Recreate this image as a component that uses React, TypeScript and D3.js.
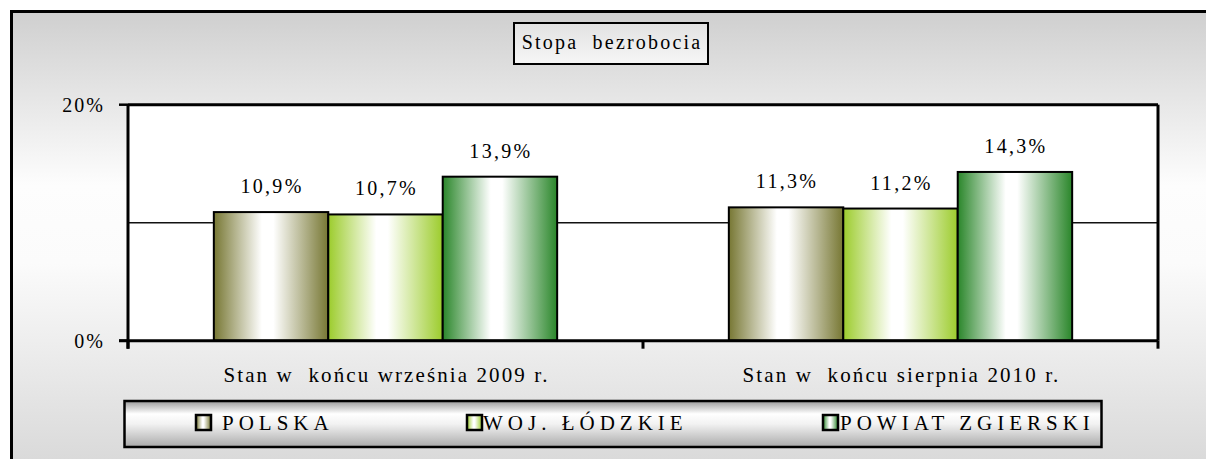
import React from "react";
import * as d3 from "d3";

const categories = ["Stan w  końcu września 2009 r.", "Stan w  końcu sierpnia 2010 r."];
const seriesNames = ["POLSKA", "WOJ. ŁÓDZKIE", "POWIAT ZGIERSKI"];
const seriesColors = ["#777733", "#9ccc2c", "#2a862a"];
const polska = [10.9, 11.3];
const wojLodzkie = [10.7, 11.2];
const powiatZgierski = [13.9, 14.3];
const yTicks = [0, 10, 20];
const yTickLabels = ["0%", "", "20%"];
const title = "Stopa  bezrobocia";

const seriesValues = [polska, wojLodzkie, powiatZgierski];

const W = 1206;
const H = 459;
const FONT = "Liberation Serif";

export default function App() {
  const plotL = 128, plotR = 1158, plotT = 104.7, plotB = 340.7;
  const x0 = d3.scaleBand<number>().domain(d3.range(categories.length)).range([plotL, plotR]).padding(0);
  const bw = x0.bandwidth();
  const groupW = (bw * 3) / 4.5;
  const x1 = d3.scaleBand<number>().domain(d3.range(seriesNames.length)).range([(bw - groupW) / 2, (bw + groupW) / 2]).padding(0);
  const y = d3.scaleLinear().domain([0, 20]).range([plotB, plotT]);
  const fmt = (v: number) => v.toFixed(1).replace(".", ",") + "%";

  const legendItems = [
    { sx: 196, tx: 222 },
    { sx: 467, tx: 483 },
    { sx: 823, tx: 840 },
  ];
  const txt = { fontFamily: FONT, whiteSpace: "pre" as const };

  return (
    <svg width={W} height={H} style={{ position: "absolute", left: 0, top: 0, display: "block" }}>
      <defs>
        <linearGradient id="bg" gradientUnits="userSpaceOnUse" x1="0" y1="11" x2="0" y2="470">
          <stop offset="0" stopColor="#cfcfcf" />
          <stop offset="0.38" stopColor="#fdfdfd" />
          <stop offset="0.55" stopColor="#fbfbfb" />
          <stop offset="1" stopColor="#d8d8d8" />
        </linearGradient>
        <linearGradient id="legbg" x1="0" y1="0" x2="0" y2="1">
          <stop offset="0" stopColor="#9a9a9a" />
          <stop offset="0.28" stopColor="#ffffff" />
          <stop offset="0.5" stopColor="#f2f2f2" />
          <stop offset="1" stopColor="#aaaaaa" />
        </linearGradient>
        <linearGradient id="titlebg" x1="0" y1="0" x2="0" y2="1">
          <stop offset="0" stopColor="#e2e2e2" />
          <stop offset="1" stopColor="#f6f6f6" />
        </linearGradient>
        {seriesColors.map((c, i) => (
          <linearGradient key={i} id={"bar" + i} x1="0" y1="0" x2="1" y2="0">
            <stop offset="0" stopColor={c} />
            <stop offset="0.42" stopColor="#ffffff" />
            <stop offset="0.52" stopColor="#ffffff" />
            <stop offset="1" stopColor={c} />
          </linearGradient>
        ))}
      </defs>

      {/* outer frame */}
      <rect x={11.5} y={11.5} width={1210} height={470} fill="url(#bg)" stroke="#000" strokeWidth={3} />

      {/* title */}
      <rect x={514} y={23} width={194} height={41} fill="url(#titlebg)" stroke="#000" strokeWidth={2} />
      <text x={612} y={49} textAnchor="middle" fontSize={20} letterSpacing={2.2} fill="#000" style={txt}>
        {title}
      </text>

      {/* plot area */}
      <rect x={plotL} y={plotT} width={plotR - plotL} height={plotB - plotT} fill="#fff" />
      {yTicks.filter((t) => t > 0 && t < 20).map((t) => (
        <line key={t} x1={plotL} x2={plotR} y1={y(t)} y2={y(t)} stroke="#111" strokeWidth={1.5} />
      ))}

      {/* bars */}
      {categories.map((c, ci) => (
        <g key={ci} transform={`translate(${x0(ci)},0)`}>
          {seriesValues.map((vals, si) => (
            <rect key={si} x={x1(si)} y={y(vals[ci])} width={x1.bandwidth()} height={plotB - y(vals[ci])}
              fill={`url(#bar${si})`} stroke="#000" strokeWidth={2} />
          ))}
          {seriesValues.map((vals, si) => (
            <text key={"l" + si} x={(x1(si) as number) + x1.bandwidth() / 2 + 1} y={y(vals[ci]) - 19} textAnchor="middle"
              fontSize={20} letterSpacing={2.3} fill="#000" style={txt}>
              {fmt(vals[ci])}
            </text>
          ))}
        </g>
      ))}

      {/* plot border */}
      <line x1={plotL} x2={plotR} y1={plotT} y2={plotT} stroke="#000" strokeWidth={3} />
      <line x1={plotR} x2={plotR} y1={plotT} y2={plotB} stroke="#000" strokeWidth={3} />
      <line x1={plotL} x2={plotL} y1={plotT} y2={plotB + 8} stroke="#000" strokeWidth={3} />
      <line x1={plotL - 9} x2={plotR} y1={plotB} y2={plotB} stroke="#000" strokeWidth={3} />

      {/* y ticks */}
      {yTicks.map((t, i) => (
        <g key={t}>
          {(t === 0 || t === 20) && <line x1={plotL - 9} x2={plotL} y1={y(t)} y2={y(t)} stroke="#000" strokeWidth={2.5} />}
          {yTickLabels[i] && (
            <text x={105} y={y(t)} dy="0.35em" textAnchor="end" fontSize={20} letterSpacing={2} fill="#000" style={txt}>
              {yTickLabels[i]}
            </text>
          )}
        </g>
      ))}

      {/* x ticks */}
      {d3.range(categories.length + 1).map((i) => {
        const xx = i < categories.length ? (x0(i) as number) : plotR;
        return <line key={i} x1={xx} x2={xx} y1={plotB} y2={plotB + 8} stroke="#000" strokeWidth={3} />;
      })}
      {categories.map((c, ci) => (
        <text key={ci} x={(x0(ci) as number) + bw / 2 + 1} y={382} textAnchor="middle" fontSize={21}
          letterSpacing={2.1} fill="#000" style={txt}>
          {c}
        </text>
      ))}

      {/* legend */}
      <rect x={124.5} y={401} width={977} height={46} fill="url(#legbg)" stroke="#000" strokeWidth={2.5} />
      {seriesNames.map((n, i) => (
        <g key={i}>
          <rect x={legendItems[i].sx} y={415} width={15} height={15} fill={`url(#bar${i})`} stroke="#000" strokeWidth={2.5} />
          <text x={legendItems[i].tx} y={430} fontSize={21} letterSpacing={5} fill="#000" style={txt}>
            {n}
          </text>
        </g>
      ))}
    </svg>
  );
}
